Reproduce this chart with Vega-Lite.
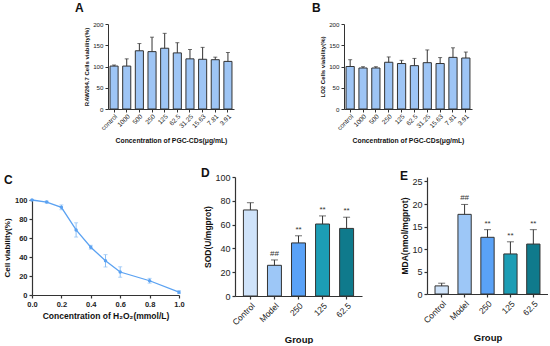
{
  "$schema": "https://vega.github.io/schema/vega-lite/v6.json",
  "padding": {"left": 3, "top": 2, "right": 0, "bottom": 0},
  "config": {
    "font": "Liberation Sans",
    "view": {"stroke": null},
    "axis": {"grid": false, "labelFlush": false, "domainColor": "#333", "tickColor": "#333", "labelColor": "#222", "titleColor": "#111", "domainWidth": 1.2, "tickWidth": 1.2, "titleFontWeight": "bold", "labelFont": "Liberation Sans", "titleFont": "Liberation Sans"},
    "title": {"anchor": "start", "fontSize": 12, "fontWeight": "bold", "color": "#111", "frame": "group"}
  },
  "datasets": {
    "raw": [
      {"conc": "control", "mean": 101, "hi": 103.5},
      {"conc": "1000", "mean": 101, "hi": 118},
      {"conc": "500", "mean": 137, "hi": 154},
      {"conc": "250", "mean": 135, "hi": 169},
      {"conc": "125", "mean": 143, "hi": 178},
      {"conc": "62.5", "mean": 132, "hi": 156},
      {"conc": "31.25", "mean": 118, "hi": 140},
      {"conc": "15.63", "mean": 117, "hi": 145},
      {"conc": "7.81", "mean": 116, "hi": 122},
      {"conc": "3.91", "mean": 112, "hi": 133}
    ],
    "lo2": [
      {"conc": "control", "mean": 100, "hi": 116},
      {"conc": "1000", "mean": 96.5, "hi": 99.5},
      {"conc": "500", "mean": 96.5, "hi": 99.5},
      {"conc": "250", "mean": 110, "hi": 122.5},
      {"conc": "125", "mean": 107, "hi": 114.5},
      {"conc": "62.5", "mean": 102, "hi": 119},
      {"conc": "31.25", "mean": 109, "hi": 139},
      {"conc": "15.63", "mean": 107, "hi": 121},
      {"conc": "7.81", "mean": 121.5, "hi": 144},
      {"conc": "3.91", "mean": 120, "hi": 134}
    ],
    "h2o2": [
      {"x": 0, "y": 100, "lo": 99.5, "hi": 100.5},
      {"x": 0.1, "y": 97.8, "lo": 96.8, "hi": 98.8},
      {"x": 0.2, "y": 92.3, "lo": 89.8, "hi": 94.8},
      {"x": 0.3, "y": 68.5, "lo": 61, "hi": 76},
      {"x": 0.4, "y": 50.3, "lo": 48.3, "hi": 52.3},
      {"x": 0.5, "y": 36, "lo": 29.5, "hi": 42.5},
      {"x": 0.6, "y": 24.2, "lo": 18.7, "hi": 29.7},
      {"x": 0.8, "y": 15, "lo": 12.5, "hi": 17.5},
      {"x": 1.0, "y": 3, "lo": 1.5, "hi": 4.5}
    ],
    "sod": [
      {"group": "Control", "mean": 72.3, "hi": 78.4, "sig": ""},
      {"group": "Model", "mean": 25.8, "hi": 30.3, "sig": "##"},
      {"group": "250", "mean": 44.6, "hi": 50.6, "sig": "**"},
      {"group": "125", "mean": 60.5, "hi": 67.3, "sig": "**"},
      {"group": "62.5", "mean": 56.8, "hi": 66.2, "sig": "**"}
    ],
    "mda": [
      {"group": "Control", "mean": 1.8, "hi": 2.4, "sig": ""},
      {"group": "Model", "mean": 17.7, "hi": 19.9, "sig": "##"},
      {"group": "250", "mean": 12.6, "hi": 14.3, "sig": "**"},
      {"group": "125", "mean": 8.9, "hi": 11.6, "sig": "**"},
      {"group": "62.5", "mean": 11.1, "hi": 14.3, "sig": "**"}
    ]
  },
  "center": true,
  "spacing": 22,
  "vconcat": [
    {
      "spacing": 78,
      "hconcat": [
        {
          "title": {"text": "A", "dx": -33, "offset": 6},
          "width": 126, "height": 85,
          "data": {"name": "raw"},
          "encoding": {
            "x": {"field": "conc", "type": "nominal", "sort": null, "scale": {"paddingInner": 0.36, "paddingOuter": 0.16},
                  "axis": {"title": "Concentration of PGC-CDs(μg/mL)", "labelAngle": -45, "labelFontSize": 6.5, "titleFontSize": 6.8, "tickSize": 3, "labelPadding": 1, "titlePadding": 6, "domainWidth": 1, "tickWidth": 1}}
          },
          "layer": [
            {"mark": {"type": "bar", "fill": "#9ec5f5", "stroke": "#333", "strokeWidth": 1},
             "encoding": {"y": {"field": "mean", "type": "quantitative", "scale": {"domain": [0, 200]},
                                "axis": {"tickCount": 4, "labelOverlap": false, "title": "RAW264.7 Cells viability(%)", "labelFontSize": 6.2, "titleFontSize": 6, "tickSize": 3, "labelPadding": 2, "titlePadding": 3, "domainWidth": 1, "tickWidth": 1}}}},
            {"mark": {"type": "rule", "stroke": "#333", "strokeWidth": 1},
             "encoding": {"y": {"field": "mean", "type": "quantitative"}, "y2": {"field": "hi"}}},
            {"mark": {"type": "tick", "color": "#333", "size": 4, "thickness": 1},
             "encoding": {"y": {"field": "hi", "type": "quantitative"}}}
          ]
        },
        {
          "title": {"text": "B", "dx": -32, "offset": 6},
          "width": 128, "height": 85,
          "data": {"name": "lo2"},
          "encoding": {
            "x": {"field": "conc", "type": "nominal", "sort": null, "scale": {"paddingInner": 0.36, "paddingOuter": 0.16},
                  "axis": {"title": "Concentration of PGC-CDs(μg/mL)", "labelAngle": -45, "labelFontSize": 6.5, "titleFontSize": 6.8, "tickSize": 3, "labelPadding": 1, "titlePadding": 6, "domainWidth": 1, "tickWidth": 1}}
          },
          "layer": [
            {"mark": {"type": "bar", "fill": "#9ec5f5", "stroke": "#333", "strokeWidth": 1},
             "encoding": {"y": {"field": "mean", "type": "quantitative", "scale": {"domain": [0, 200]},
                                "axis": {"tickCount": 4, "labelOverlap": false, "title": "LO2 Cells viability(%)", "labelFontSize": 6.2, "titleFontSize": 6, "tickSize": 3, "labelPadding": 2, "titlePadding": 3, "domainWidth": 1, "tickWidth": 1}}}},
            {"mark": {"type": "rule", "stroke": "#333", "strokeWidth": 1},
             "encoding": {"y": {"field": "mean", "type": "quantitative"}, "y2": {"field": "hi"}}},
            {"mark": {"type": "tick", "color": "#333", "size": 4, "thickness": 1},
             "encoding": {"y": {"field": "hi", "type": "quantitative"}}}
          ]
        }
      ]
    },
    {
      "spacing": 38,
      "hconcat": [
        {
          "spacing": 16,
          "hconcat": [
            {
              "title": {"text": "C", "dx": -28, "offset": -10},
              "width": 147, "height": 118,
              "data": {"name": "h2o2"},
              "encoding": {
                "x": {"field": "x", "type": "quantitative", "scale": {"domain": [0, 1]},
                      "axis": {"tickCount": 5, "format": ".1f", "labelOverlap": false, "title": "Concentration of H₂O₂(mmol/L)", "labelFontSize": 7.5, "labelFontWeight": "bold", "titleFontSize": 8.5, "tickSize": 3, "labelPadding": 2, "titlePadding": 4}}
              },
              "layer": [
                {"mark": {"type": "rule", "stroke": "#8ec0f5", "strokeWidth": 1},
                 "encoding": {"y": {"field": "lo", "type": "quantitative"}, "y2": {"field": "hi"}}},
                {"mark": {"type": "tick", "orient": "horizontal", "color": "#8ec0f5", "size": 4, "thickness": 1},
                 "encoding": {"y": {"field": "lo", "type": "quantitative"}}},
                {"mark": {"type": "tick", "orient": "horizontal", "color": "#8ec0f5", "size": 4, "thickness": 1},
                 "encoding": {"y": {"field": "hi", "type": "quantitative"}}},
                {"mark": {"type": "line", "color": "#5ba2f2", "strokeWidth": 1.3},
                 "encoding": {"y": {"field": "y", "type": "quantitative", "scale": {"domain": [0, 100], "range": [118, 23]},
                                    "axis": {"tickCount": 5, "labelOverlap": false, "title": "Cell viability(%)", "labelFontSize": 7.5, "labelFontWeight": "bold", "titleFontSize": 8, "tickSize": 3, "labelPadding": 2, "titlePadding": 3}}}},
                {"mark": {"type": "point", "filled": true, "color": "#5ba2f2", "size": 12, "opacity": 1},
                 "encoding": {"y": {"field": "y", "type": "quantitative"}}}
              ]
            },
            {
              "title": {"text": "D", "dx": -34, "offset": -7},
              "width": 127, "height": 119,
              "data": {"name": "sod"},
              "encoding": {
                "x": {"field": "group", "type": "nominal", "sort": null, "scale": {"paddingInner": 0.42, "paddingOuter": 0.35},
                      "axis": {"title": "Group", "labelAngle": -45, "labelFontSize": 8.5, "titleFontSize": 9.5, "tickSize": 3, "labelPadding": 2, "titlePadding": 8}}
              },
              "layer": [
                {"mark": {"type": "bar", "stroke": "#333", "strokeWidth": 1},
                 "encoding": {
                   "y": {"field": "mean", "type": "quantitative", "scale": {"domain": [0, 100]},
                         "axis": {"tickCount": 5, "labelOverlap": false, "title": "SOD(U/mgprot)", "labelFontSize": 9, "titleFontSize": 8.5, "tickSize": 3, "labelPadding": 2, "titlePadding": 2}},
                   "fill": {"field": "group", "type": "nominal", "sort": null, "legend": null,
                            "scale": {"domain": ["Control", "Model", "250", "125", "62.5"], "range": ["#cfe3fa", "#9dc7f7", "#5aa2f7", "#1c9db5", "#0f7a8c"]}}
                 }},
                {"mark": {"type": "rule", "stroke": "#333", "strokeWidth": 1},
                 "encoding": {"y": {"field": "mean", "type": "quantitative"}, "y2": {"field": "hi"}}},
                {"mark": {"type": "tick", "color": "#333", "size": 7, "thickness": 1},
                 "encoding": {"y": {"field": "hi", "type": "quantitative"}}},
                {"mark": {"type": "text", "baseline": "bottom", "dy": -2, "fontSize": 8, "color": "#333"},
                 "encoding": {"y": {"field": "hi", "type": "quantitative"}, "text": {"field": "sig"}}}
              ]
            }
          ]
        },
        {
          "title": {"text": "E", "dx": -27, "offset": -6},
          "width": 121, "height": 117,
          "data": {"name": "mda"},
          "encoding": {
            "x": {"field": "group", "type": "nominal", "sort": null, "scale": {"paddingInner": 0.42, "paddingOuter": 0.35},
                  "axis": {"title": "Group", "labelAngle": -45, "labelFontSize": 8.5, "titleFontSize": 9.5, "tickSize": 3, "labelPadding": 2, "titlePadding": 8}}
          },
          "layer": [
            {"mark": {"type": "bar", "stroke": "#333", "strokeWidth": 1},
             "encoding": {
               "y": {"field": "mean", "type": "quantitative", "scale": {"domain": [0, 25]},
                     "axis": {"tickCount": 5, "labelOverlap": false, "title": "MDA(nmol/mgprot)", "labelFontSize": 9, "titleFontSize": 8.5, "tickSize": 3, "labelPadding": 2, "titlePadding": 2}},
               "fill": {"field": "group", "type": "nominal", "sort": null, "legend": null,
                        "scale": {"domain": ["Control", "Model", "250", "125", "62.5"], "range": ["#cfe3fa", "#9dc7f7", "#5aa2f7", "#1c9db5", "#0f7a8c"]}}
             }},
            {"mark": {"type": "rule", "stroke": "#333", "strokeWidth": 1},
             "encoding": {"y": {"field": "mean", "type": "quantitative"}, "y2": {"field": "hi"}}},
            {"mark": {"type": "tick", "color": "#333", "size": 7, "thickness": 1},
             "encoding": {"y": {"field": "hi", "type": "quantitative"}}},
            {"mark": {"type": "text", "baseline": "bottom", "dy": -2, "fontSize": 8, "color": "#333"},
             "encoding": {"y": {"field": "hi", "type": "quantitative"}, "text": {"field": "sig"}}}
          ]
        }
      ]
    }
  ]
}
